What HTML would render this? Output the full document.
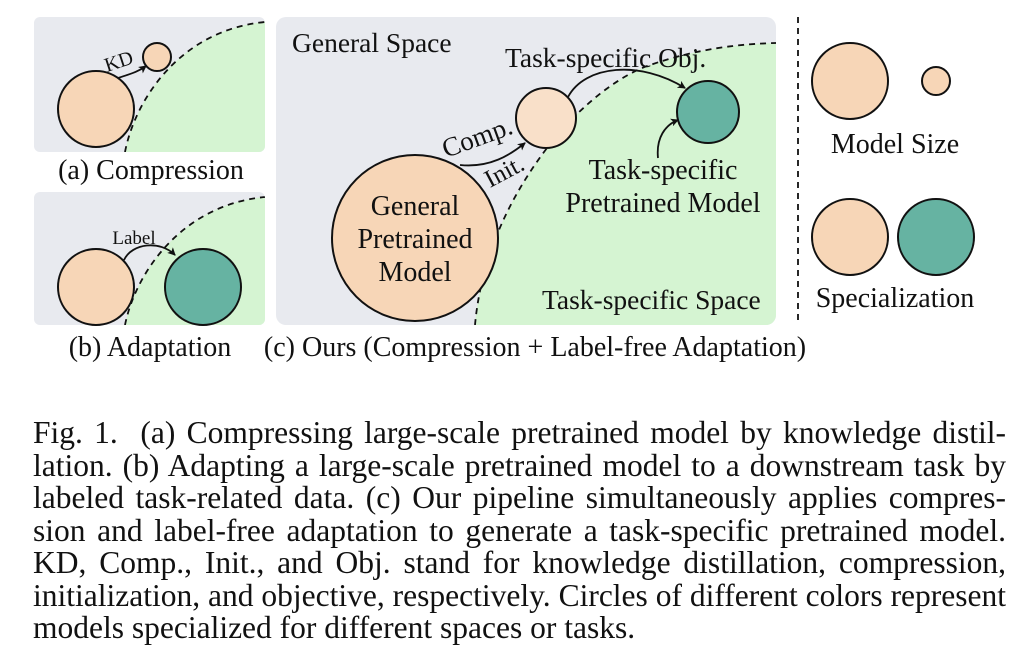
<!DOCTYPE html>
<html><head><meta charset="utf-8"><style>
body{margin:0;width:1024px;height:658px;background:#fff;overflow:hidden;position:relative;font-family:"Liberation Serif","DejaVu Serif",serif;}
svg{position:absolute;left:0;top:0}
.cap{position:absolute;left:33px;width:973px;font-size:31.5px;color:#111;}
.cap div{height:32.5px;line-height:32.5px;text-align:justify;text-align-last:justify;white-space:nowrap}
.cap div.last{text-align-last:left}
</style></head><body>
<svg width="1024" height="380" viewBox="0 0 1024 380" style="font-family:'Liberation Serif','DejaVu Serif',serif" fill="#111">
<defs>
<marker id="ar" markerWidth="8" markerHeight="8" refX="7" refY="4" orient="auto" markerUnits="userSpaceOnUse"><path d="M0,0 L8,4 L0,8 L2,4 z" fill="#111"/></marker>
<clipPath id="ca"><rect x="34" y="17" width="231" height="135" rx="6"/></clipPath>
<clipPath id="cb"><rect x="34" y="192" width="231" height="133" rx="6"/></clipPath>
<clipPath id="cc"><rect x="276" y="17" width="500" height="308" rx="10"/></clipPath>
</defs>
<g clip-path="url(#ca)">
<rect x="34" y="17" width="231" height="135" fill="#e8eaef"/>
<path d="M125,152 C135,100 180,30 265,22 L265,152 Z" fill="#d5f4d2"/>
<path d="M125,152 C135,100 180,30 265,22" fill="none" stroke="#111" stroke-width="1.8" stroke-dasharray="6,5"/>
</g>
<circle cx="96" cy="109" r="38" fill="#f7d6b7" stroke="#111" stroke-width="2"/>
<circle cx="157" cy="57" r="14" fill="#f7d6b7" stroke="#111" stroke-width="2"/>
<path d="M118,78 C130,74 138,72 146,66" fill="none" stroke="#111" stroke-width="1.8" marker-end="url(#ar)"/>
<text x="107" y="72" font-size="20" transform="rotate(-18 107 72)">KD</text>
<text x="151" y="179" font-size="28" text-anchor="middle">(a) Compression</text>
<g clip-path="url(#cb)">
<rect x="34" y="192" width="231" height="133" fill="#e8eaef"/>
<path d="M125,325 C135,275 180,205 265,197 L265,325 Z" fill="#d5f4d2"/>
<path d="M125,325 C135,275 180,205 265,197" fill="none" stroke="#111" stroke-width="1.8" stroke-dasharray="6,5"/>
</g>
<circle cx="96" cy="287" r="38" fill="#f7d6b7" stroke="#111" stroke-width="2"/>
<circle cx="203" cy="287" r="38" fill="#66b3a2" stroke="#111" stroke-width="2"/>
<path d="M124,260 C132,243 160,240 175,255" fill="none" stroke="#111" stroke-width="1.8" marker-end="url(#ar)"/>
<text x="134" y="244" font-size="19" text-anchor="middle">Label</text>
<text x="150" y="356" font-size="28" text-anchor="middle">(b) Adaptation</text>
<g clip-path="url(#cc)">
<rect x="276" y="17" width="500" height="308" fill="#e8eaef"/>
<path d="M475,325 C480,270 500,210 547,148 C580,105 620,75 650,65 C700,48 740,44 776,43 L776,325 Z" fill="#d5f4d2"/>
<path d="M475,325 C480,270 500,210 547,148 C580,105 620,75 650,65 C700,48 740,44 776,43" fill="none" stroke="#111" stroke-width="1.8" stroke-dasharray="6,5"/>
</g>
<circle cx="415" cy="238" r="83" fill="#f7d6b7" stroke="#111" stroke-width="2"/>
<circle cx="546" cy="118" r="30" fill="#f9e0c9" stroke="#111" stroke-width="2"/>
<circle cx="708" cy="112" r="31" fill="#66b3a2" stroke="#111" stroke-width="2"/>
<path d="M460,165 C490,168 510,155 525,143" fill="none" stroke="#111" stroke-width="1.8" marker-end="url(#ar)"/>
<path d="M568,97 C585,65 640,60 685,88" fill="none" stroke="#111" stroke-width="1.8" marker-end="url(#ar)"/>
<path d="M658,158 C656,138 665,125 678,120" fill="none" stroke="#111" stroke-width="1.8" marker-end="url(#ar)"/>
<text x="292" y="52" font-size="27.5">General Space</text>
<text x="505" y="67" font-size="27.5">Task-specific Obj.</text>
<text x="446" y="158" font-size="27" transform="rotate(-20 446 158)">Comp.</text>
<text x="490" y="188" font-size="25" transform="rotate(-28 490 188)">Init.</text>
<text x="415" y="215" font-size="28" text-anchor="middle">General</text>
<text x="415" y="248" font-size="28" text-anchor="middle">Pretrained</text>
<text x="415" y="281" font-size="28" text-anchor="middle">Model</text>
<text x="663" y="179" font-size="28" text-anchor="middle">Task-specific</text>
<text x="663" y="212" font-size="28" text-anchor="middle">Pretrained Model</text>
<text x="542" y="309" font-size="27.5">Task-specific Space</text>
<text x="535" y="356" font-size="28" text-anchor="middle">(c) Ours (Compression + Label-free Adaptation)</text>
<line x1="798" y1="17" x2="798" y2="325" stroke="#111" stroke-width="1.8" stroke-dasharray="6,5"/>
<circle cx="850" cy="81" r="38" fill="#f7d6b7" stroke="#111" stroke-width="2"/>
<circle cx="936" cy="81" r="14" fill="#f7d6b7" stroke="#111" stroke-width="2"/>
<text x="895" y="153" font-size="28" text-anchor="middle">Model Size</text>
<circle cx="850" cy="237" r="38" fill="#f7d6b7" stroke="#111" stroke-width="2"/>
<circle cx="936" cy="237" r="38" fill="#66b3a2" stroke="#111" stroke-width="2"/>
<text x="895" y="307" font-size="28" text-anchor="middle">Specialization</text>
</svg>
<div class="cap" style="top:417px">
<div>Fig. 1. &nbsp;(a) Compressing large-scale pretrained model by knowledge distil-</div>
<div>lation. (b) Adapting a large-scale pretrained model to a downstream task by</div>
<div>labeled task-related data. (c) Our pipeline simultaneously applies compres-</div>
<div>sion and label-free adaptation to generate a task-specific pretrained model.</div>
<div>KD, Comp., Init., and Obj. stand for knowledge distillation, compression,</div>
<div>initialization, and objective, respectively. Circles of different colors represent</div>
<div class="last">models specialized for different spaces or tasks.</div>
</div>
</body></html>
